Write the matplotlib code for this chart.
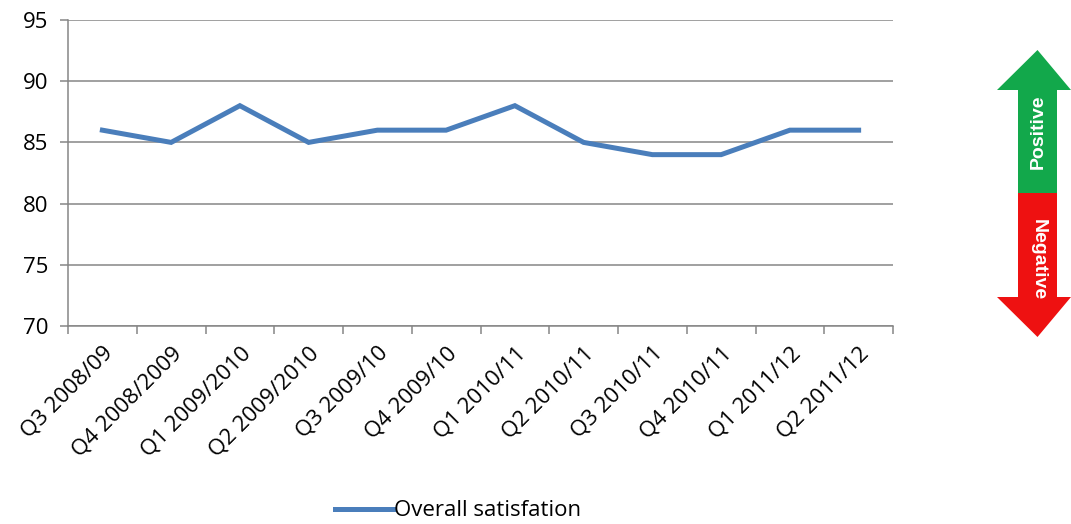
import matplotlib
matplotlib.use("Agg")
import matplotlib.pyplot as plt
from matplotlib.patches import Polygon
import numpy as np

plt.rcParams['font.family'] = ['Open Sans', 'DejaVu Sans']

# quarters and overall satisfaction scores
quarters = ['Q3 2008/09', 'Q4 2008/2009', 'Q1 2009/2010', 'Q2 2009/2010',
            'Q3 2009/10', 'Q4 2009/10', 'Q1 2010/11', 'Q2 2010/11',
            'Q3 2010/11', 'Q4 2010/11', 'Q1 2011/12', 'Q2 2011/12']
satisfaction = [86, 85, 88, 85, 86, 86, 88, 85, 84, 84, 86, 86]
yticks = [70, 75, 80, 85, 90, 95]

W, H = 1071, 524
fig = plt.figure(figsize=(W / 100, H / 100), dpi=100)
ax = fig.add_axes([68 / W, 1 - 326 / H, 825 / W, 306 / H])

x = np.arange(len(quarters))
ax.plot(x, satisfaction, color='#4A7EBB', lw=3.6, solid_joinstyle='miter',
        label='Overall satisfation')

ax.set_xlim(-0.5, len(quarters) - 0.5)
ax.set_ylim(70, 95)
ax.set_yticks(yticks)
ax.yaxis.grid(True, color='#868686', lw=1.1)
ax.set_axisbelow(True)

# category ticks at boundaries, labels at centres
ax.set_xticks(np.arange(len(quarters) + 1) - 0.5)
ax.set_xticklabels([])
ax.set_xticks(x, minor=True)
ax.set_xticklabels(quarters, minor=True, rotation=45, ha='right',
                   rotation_mode='anchor', fontsize=16)
ax.tick_params(axis='x', which='minor', length=0, pad=12)
ax.tick_params(axis='x', which='major', length=6, color='#868686', width=1.1)
ax.tick_params(axis='y', length=6, color='#868686', width=1.1, labelsize=16, pad=8)

for s in ['top', 'right']:
    ax.spines[s].set_visible(False)
for s in ['left', 'bottom']:
    ax.spines[s].set_color('#868686')
    ax.spines[s].set_linewidth(1.1)

fig.legend(loc='center', bbox_to_anchor=(458 / W, 1 - 511 / H), frameon=False,
           fontsize=16, handlelength=2.6, handletextpad=0.05)

# positive / negative arrow, drawn in pixel coordinates of the figure
arr = fig.add_axes([0, 0, 1, 1], zorder=-1)
arr.set_xlim(0, W)
arr.set_ylim(H, 0)
arr.axis('off')
green = [(1018, 193), (1018, 90), (997, 90), (1037.5, 50), (1071, 90),
         (1057, 90), (1057, 193)]
red = [(1018, 193), (1018, 297), (997, 297), (1037.5, 337), (1071, 297),
       (1057, 297), (1057, 193)]
arr.add_patch(Polygon(green, closed=True, color='#12A84B', lw=0))
arr.add_patch(Polygon(red, closed=True, color='#EE1111', lw=0))
arr.text(1038, 132, 'Positive', rotation=90, ha='center', va='center',
         color='white', fontweight='bold', fontsize=14, family=['Liberation Sans'])
arr.text(1038, 260, 'Negative', rotation=-90, ha='center', va='center',
         color='white', fontweight='bold', fontsize=14, family=['Liberation Sans'])

fig.savefig('out.png', dpi=100)
